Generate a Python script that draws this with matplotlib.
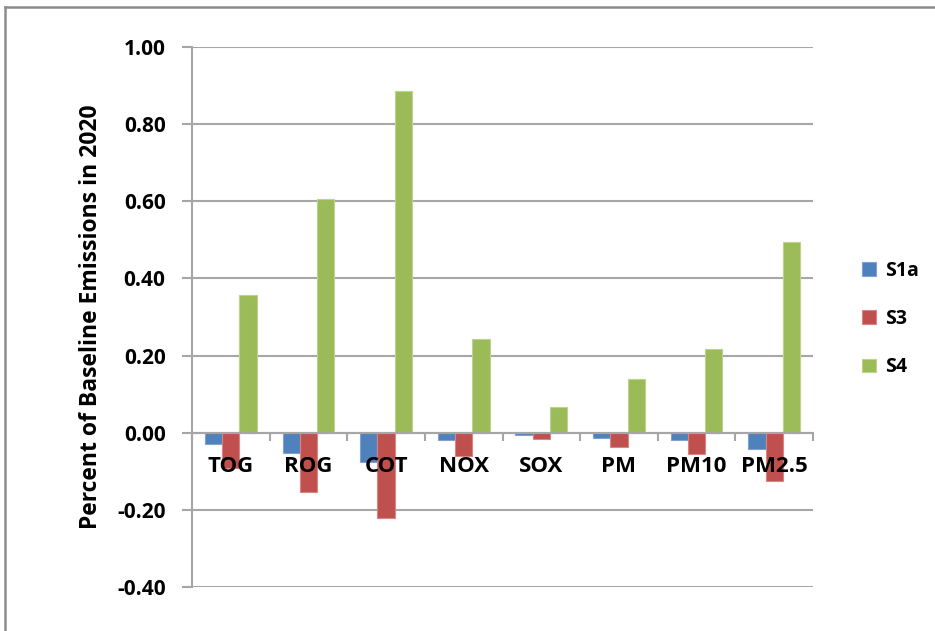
import numpy as np
import matplotlib.pyplot as plt
from matplotlib.lines import Line2D

# Change in emissions relative to the 2020 baseline, per pollutant
pollutants = ["TOG", "ROG", "COT", "NOX", "SOX", "PM", "PM10", "PM2.5"]
s1a = [-0.028, -0.052, -0.076, -0.020, -0.006, -0.013, -0.020, -0.043]
s3 = [-0.091, -0.153, -0.222, -0.061, -0.016, -0.036, -0.056, -0.125]
s4 = [0.356, 0.605, 0.885, 0.242, 0.067, 0.140, 0.216, 0.495]
scenarios = ["S1a", "S3", "S4"]

colors = ["#4F81BD", "#C0504D", "#9BBB59"]
edges = ["#7FA3D1", "#D98583", "#BCD38E"]
font = "Open Sans"
grid_gray = "#A6A6A6"

fig = plt.figure(figsize=(9.35, 6.31), dpi=100)
ax = fig.add_axes([192 / 935, 1 - 587 / 631, (813 - 192) / 935, (587 - 47) / 631])

yticks = np.arange(-0.4, 1.01, 0.2)
for yv in yticks:
    ax.axhline(yv, color=grid_gray, linewidth=1.5, zorder=0)

x = np.arange(len(pollutants))
width = 1 / 4.5
for i, (name, vals) in enumerate(zip(scenarios, [s1a, s3, s4])):
    ax.bar(x + (i - 1) * width, vals, width, color=colors[i],
           edgecolor=edges[i], linewidth=0.8, label=name, zorder=1)

ax.set_xlim(-0.5, len(pollutants) - 0.5)
ax.set_ylim(-0.4, 1.0)
ax.set_yticks(yticks)
ax.set_yticklabels([f"{v:.2f}" for v in yticks],
                   fontfamily=font, fontweight="bold", fontsize=15)

# category axis sits on the zero line, ticks between groups
ax.spines["bottom"].set_position(("data", 0))
ax.spines["bottom"].set_color(grid_gray)
ax.spines["bottom"].set_linewidth(1.5)
ax.spines["left"].set_color(grid_gray)
ax.spines["left"].set_linewidth(1.5)
ax.spines["top"].set_visible(False)
ax.spines["right"].set_visible(False)

ax.set_xticks(x)
ax.set_xticklabels(pollutants, fontfamily=font, fontweight="bold", fontsize=16)
ax.set_xticks(np.arange(-0.5, len(pollutants)), minor=True)
ax.tick_params(axis="x", which="major", length=0, pad=17)
ax.tick_params(axis="x", which="minor", length=6, width=1.5, color=grid_gray,
               direction="out")
ax.tick_params(axis="y", length=7, width=1.5, color=grid_gray, pad=12)

ax.set_ylabel("Percent of Baseline Emissions in 2020", fontfamily=font,
              fontweight="bold", fontsize=16.5, labelpad=10)

fig.legend(loc="center left", bbox_to_anchor=(862 / 935, 1 - 319 / 631),
           frameon=False, borderpad=0, borderaxespad=0,
           handlelength=0.7, handleheight=0.7, handletextpad=0.5,
           labelspacing=1.45,
           prop={"family": font, "weight": "bold", "size": 14})

# chart area border
border = "#8C8C8C"
fig.add_artist(Line2D([5 / 935, 5 / 935], [0, 1 - 7 / 631],
                      color=border, linewidth=1.8))
fig.add_artist(Line2D([5 / 935, 1], [1 - 7 / 631, 1 - 7 / 631],
                      color=border, linewidth=1.8))

fig.savefig("out.png", dpi=100)
